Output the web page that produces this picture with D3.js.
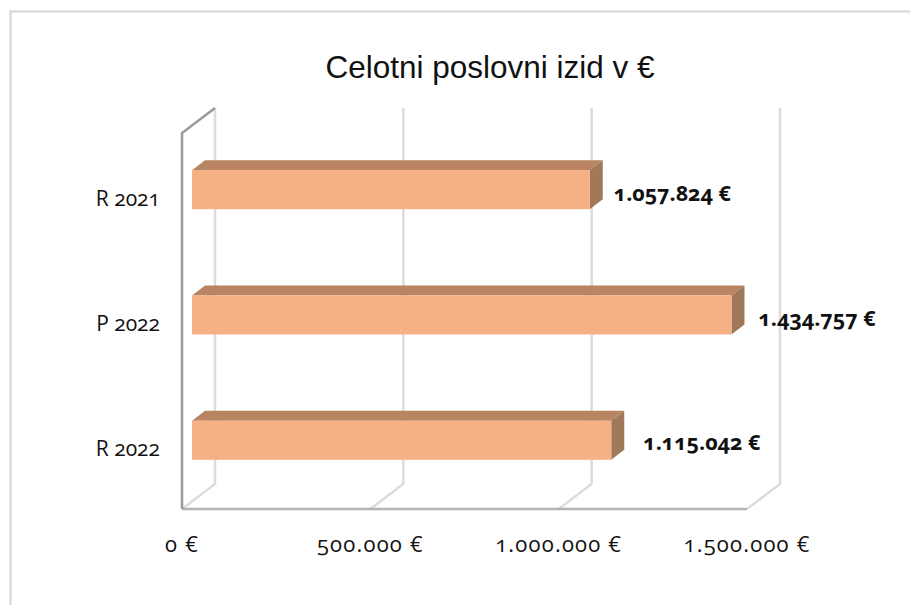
<!DOCTYPE html>
<html>
<head>
<meta charset="utf-8">
<script src="https://cdn.jsdelivr.net/npm/d3@7"></script>
<style>
  html, body { margin: 0; padding: 0; background: #fff; overflow: hidden; }
  .lbl { font-family: "Open Sans", sans-serif; font-variant-numeric: oldstyle-nums; font-feature-settings: "onum" 1; fill: #111; }
</style>
</head>
<body>
<script>
// Chart data
var categories = ["R 2021", "P 2022", "R 2022"];
var values = [1057824, 1434757, 1115042];
var valueLabels = ["1.057.824 €", "1.434.757 €", "1.115.042 €"];
var tickValues = [0, 500000, 1000000, 1500000];
var tickLabels = ["0 €", "500.000 €", "1.000.000 €", "1.500.000 €"];

// Chart params
var svgWidth = 910;
var svgHeight = 605;
var depth = { x: 33, y: 25 };
var plot = { left: 182, right: 747, top: 133, bottom: 509 };

var svg = d3.select("body").append("svg")
    .attr("width", svgWidth)
    .attr("height", svgHeight)
    .style("display", "block");

// outer frame, only left and top show in the picture
svg.append("rect")
    .attr("x", 10.5).attr("y", 11.5)
    .attr("width", 920).attr("height", 640)
    .attr("fill", "#fff")
    .attr("stroke", "#dcdcdc")
    .attr("stroke-width", 2.5);

svg.append("text")
    .attr("x", 490).attr("y", 78)
    .attr("text-anchor", "middle")
    .attr("font-family", "Liberation Sans")
    .attr("font-size", 31.5)
    .attr("fill", "#111")
    .text("Celotni poslovni izid v €");

// scales
var xScale = d3.scaleLinear().domain([0, 1500000]).range([plot.left, plot.right]);
var barScale = d3.scaleLinear().domain([0, 1500000]).range([plot.left + 10, plot.right + 9]);
var yScale = d3.scaleBand().domain(categories).range([plot.top, plot.bottom]);

// gridlines on the back wall and the floor
var grid = svg.append("g");
tickValues.forEach(function (t) {
    var x = xScale(t);
    grid.append("path")
        .attr("d", d3.line()([[x, plot.bottom], [x + depth.x, plot.bottom - depth.y], [x + depth.x, plot.top - depth.y]]))
        .attr("fill", "none")
        .attr("stroke", "#dcdcdc")
        .attr("stroke-width", 2.5);
});

// left wall and floor front edge
svg.append("path")
    .attr("d", d3.line()([[plot.left, plot.bottom], [plot.right, plot.bottom]]))
    .attr("fill", "none")
    .attr("stroke", "#b3b3b3")
    .attr("stroke-width", 2.5);
svg.append("path")
    .attr("d", d3.line()([[plot.left + depth.x, plot.top - depth.y], [plot.left, plot.top], [plot.left, plot.bottom]]))
    .attr("fill", "none")
    .attr("stroke", "#999")
    .attr("stroke-width", 2.5);

// 3d bars
var barH = 39, barDx = 13, barDy = 10, offY = -6;
var bars = svg.selectAll(".bar").data(values).enter().append("g").attr("class", "bar");

function barTop(i) { return yScale(categories[i]) + yScale.bandwidth() / 2 + offY - barH / 2; }

bars.append("path")
    .attr("fill", "#b98462")
    .attr("d", function (d, i) {
        var t = barTop(i), l = barScale(0), r = barScale(d);
        return d3.line()([[l, t], [l + barDx, t - barDy], [r + barDx, t - barDy], [r, t]]);
    });
bars.append("path")
    .attr("fill", "#a0785a")
    .attr("d", function (d, i) {
        var t = barTop(i), r = barScale(d);
        return d3.line()([[r, t], [r + barDx, t - barDy], [r + barDx, t - barDy + barH], [r, t + barH]]);
    });
bars.append("rect")
    .attr("fill", "#f5b183")
    .attr("x", barScale(0))
    .attr("y", function (d, i) { return barTop(i); })
    .attr("width", function (d) { return barScale(d) - barScale(0); })
    .attr("height", barH);

// value labels, the gap to the bar differs per label in the picture
var labelDx = [24, 27, 32];
var labelDy = [31, 30, 29];
svg.selectAll(".val").data(values).enter().append("text")
    .attr("class", "lbl val")
    .attr("x", function (d, i) { return barScale(d) + labelDx[i]; })
    .attr("y", function (d, i) { return barTop(i) + labelDy[i]; })
    .attr("font-size", 21.5)
    .attr("font-weight", 700)
    .text(function (d, i) { return valueLabels[i]; });

// category labels
svg.selectAll(".cat").data(categories).enter().append("text")
    .attr("class", "lbl cat")
    .attr("x", 160)
    .attr("y", function (d) { return yScale(d) + yScale.bandwidth() / 2 + 10; })
    .attr("text-anchor", "end")
    .attr("font-size", 21)
    .text(function (d) { return d; });

// tick labels
svg.selectAll(".tick").data(tickValues).enter().append("text")
    .attr("class", "lbl tick")
    .attr("x", function (d) { return xScale(d); })
    .attr("y", 552)
    .attr("text-anchor", "middle")
    .attr("font-size", 22)
    .attr("letter-spacing", 1.2)
    .text(function (d, i) { return tickLabels[i]; });
</script>
</body>
</html>
